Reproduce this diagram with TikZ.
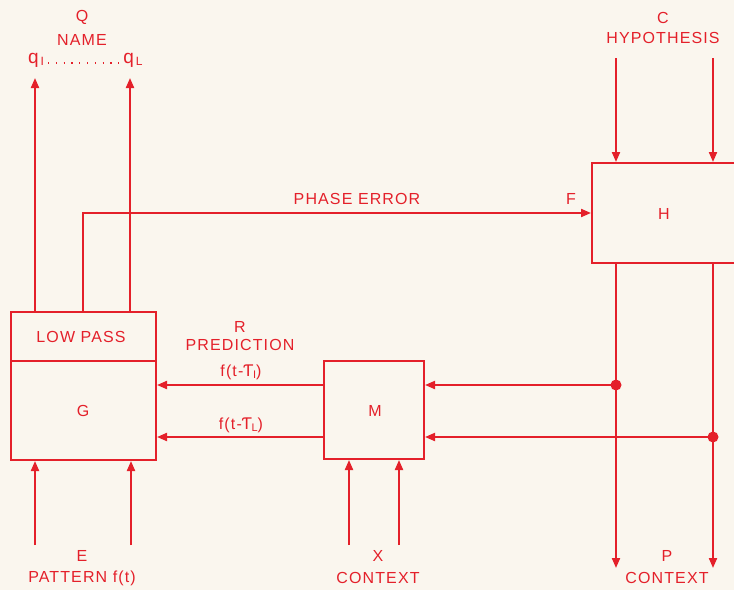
\documentclass[tikz,border=0pt]{standalone}
\usepackage{fontspec}
\setmainfont{Liberation Sans}
\newfontfamily\dvfont{DejaVu Sans}
\usetikzlibrary{arrows.meta}
\definecolor{ink}{RGB}{228,32,42}
\definecolor{paper}{RGB}{250,246,238}
\tikzset{
  wire/.style={draw=ink, line width=2pt},
  arr/.style={wire, -{Triangle[length=10pt 0,width=8pt 0]}},
  box/.style={draw=ink, line width=2pt, inner sep=0pt},
  lab/.style={text=ink, inner sep=0pt, font=\fontsize{16}{18}\selectfont\addfontfeature{LetterSpace=7}},
}
\newcommand{\tauT}{{\dvfont\addfontfeature{LetterSpace=0}Ƭ}}
\begin{document}
\begin{tikzpicture}[x=1pt,y=-1pt]
\fill[paper] (0,0) rectangle (734,590);
\useasboundingbox (0,0) rectangle (734,590);

% boxes
\node[box, minimum width=145pt, minimum height=148pt] (G) at (83.5,386) {};
\coordinate (dv) at (0,361);
\draw[wire] (G.west |- dv) -- (G.east |- dv);
\node[box, minimum width=144pt, minimum height=100pt] (H) at (664,213) {};
\node[box, minimum width=100pt, minimum height=98pt] (M) at (374,410) {};

% box labels
\node[lab] (lp) at (81,337) {LOW PASS};
\node[lab] (gl) at (83,411) {G};
\node[lab] (ml) at (375,411) {M};
\node[lab] (hl) at (664,214) {H};

% coordinates
\coordinate (qa) at (35,78);
\coordinate (qb) at (130,78);
\coordinate (pe0) at (83,0);
\coordinate (c1) at (616,58);
\coordinate (c2) at (713,58);
\coordinate (p1) at (616,568);
\coordinate (p2) at (713,568);
\coordinate (d1) at (616,385);
\coordinate (d2) at (713,437);
\coordinate (e1) at (35,545);
\coordinate (e2) at (131,545);
\coordinate (x1) at (349,545);
\coordinate (x2) at (399,545);

% name outputs
\draw[arr] (G.north -| qa) -- (qa);
\draw[arr] (G.north -| qb) -- (qb);
% phase error
\draw[arr] (G.north -| pe0) |- (H.west);
% hypothesis inputs
\draw[arr] (c1) -- (c1 |- H.north);
\draw[arr] (c2) -- (c2 |- H.north);
% H outputs
\draw[arr] (H.south -| p1) -- (p1);
\draw[arr] (H.south -| p2) -- (p2);
\fill[ink] (d1) circle (5.5pt);
\fill[ink] (d2) circle (5.5pt);
\draw[arr] (d1) -- (M.east |- d1);
\draw[arr] (d2) -- (M.east |- d2);
% M to G
\draw[arr] (M.west |- d1) -- (G.east |- d1);
\draw[arr] (M.west |- d2) -- (G.east |- d2);
% inputs
\draw[arr] (e1) -- (e1 |- G.south);
\draw[arr] (e2) -- (e2 |- G.south);
\draw[arr] (x1) -- (x1 |- M.south);
\draw[arr] (x2) -- (x2 |- M.south);

% labels
\node[lab] (Q) at (82,17) {Q};
\node[lab] (nm) at (82,40) {NAME};
\node[lab, font=\fontsize{19}{20}\selectfont] (q1) at (36,60) {q\raisebox{-2pt}{\fontsize{12}{12}\selectfont\,I}};
\coordinate (da) at (48,63);
\coordinate (db) at (119,63);
\draw[ink, line width=1.2pt, dash pattern=on 1.2pt off 6.6pt] (da) -- (db);
\node[lab, font=\fontsize{19}{20}\selectfont] (qL) at (133,60) {q\raisebox{-2pt}{\fontsize{12}{12}\selectfont\,L}};
\node[lab] (C) at (663,18) {C};
\node[lab] (hy) at (663,38) {HYPOTHESIS};
\node[lab] (pe) at (357,199) {PHASE ERROR};
\node[lab] (F) at (571,199) {F};
\node[lab] (R) at (240,327) {R};
\node[lab] (pr) at (240,345) {PREDICTION};
\node[lab] (f1) at (241,372) {f(t-\tauT\raisebox{-2.5pt}{\fontsize{11}{12}\selectfont I})};
\node[lab] (fL) at (241,425) {f(t-\tauT\raisebox{-2.5pt}{\fontsize{11}{12}\selectfont L})};
\node[lab] (E) at (82,556) {E};
\node[lab] (pt) at (82,578) {PATTERN f(t)};
\node[lab] (X) at (378,556) {X};
\node[lab] (cx) at (378,578) {CONTEXT};
\node[lab] (P) at (667,556) {P};
\node[lab] (cp) at (667,578) {CONTEXT};
\end{tikzpicture}
\end{document}
